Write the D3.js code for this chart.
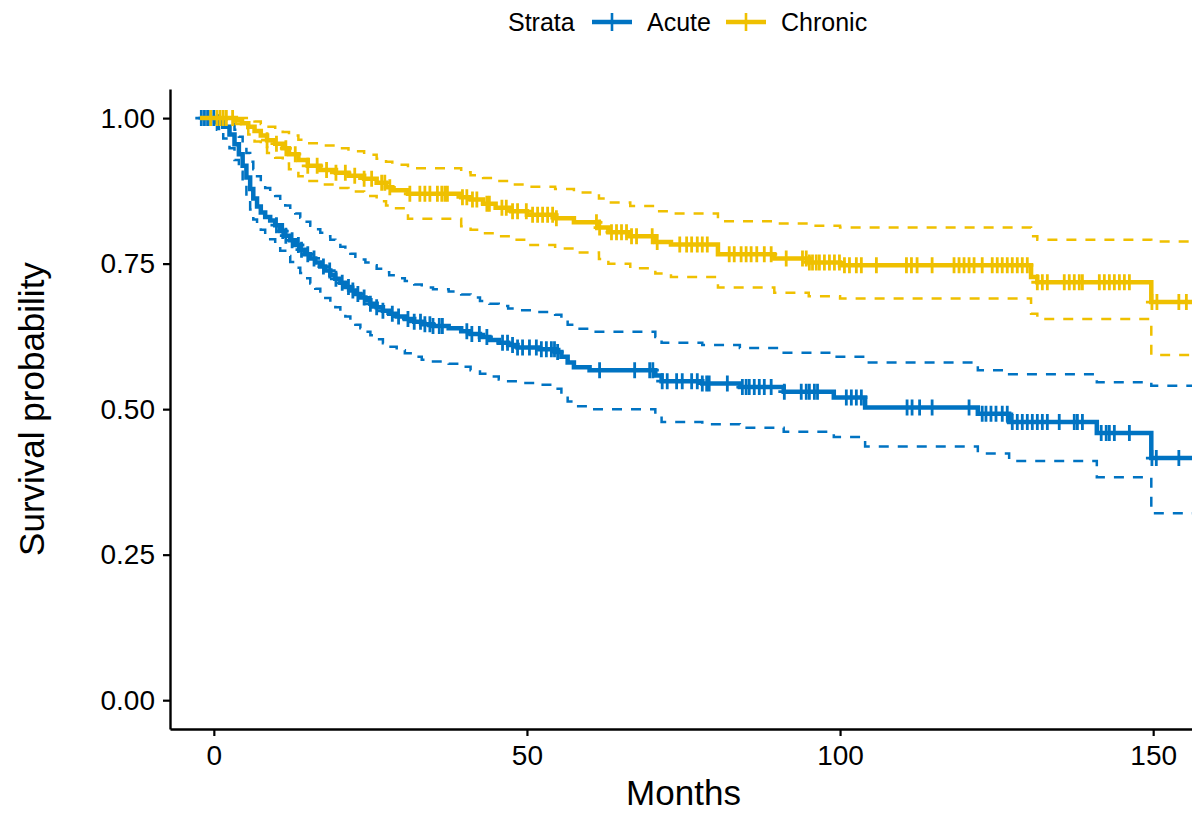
<!DOCTYPE html>
<html>
<head>
<meta charset="utf-8">
<script src="https://cdn.jsdelivr.net/npm/d3@7"></script>
<style>
  body { margin: 0; background: #fff; }
  text { font-family: "Liberation Sans", Arial, sans-serif; fill: #000; }
</style>
</head>
<body>
<svg width="1192" height="814" viewBox="0 0 1192 814"></svg>
<script>
// input data (months, survival probability)
const strata = ['Acute', 'Chronic'];
const colors = ['#0073C2', '#EFC000'];

// Acute: step times and estimate, with the 95% band
const acuteTime = [-2.2, 0.5, 1.5, 2.5, 3.3, 4.0, 4.6, 5.2, 5.8, 6.3, 6.9, 7.5, 8.2, 9.0, 9.8, 10.6, 11.4, 12.2, 13.0, 13.8, 14.6, 15.4, 16.2, 17.0, 17.8, 18.6, 19.4, 20.2, 21.0, 21.8, 22.6, 23.4, 24.2, 25.0, 26.0, 27.0, 28.0, 29.2, 30.5, 32.0, 33.2, 35.0, 37.5, 39.5, 41.0, 42.5, 44.0, 45.5, 47.0, 48.5, 52.0, 54.5, 55.5, 56.5, 57.5, 60.0, 70.5, 71.5, 78.0, 84.0, 91.0, 99.0, 104.0, 122.0, 127.0, 141.0, 149.7];
const acuteSurv = [1.0, 0.993, 0.985, 0.972, 0.955, 0.938, 0.918, 0.898, 0.878, 0.862, 0.848, 0.838, 0.830, 0.824, 0.816, 0.806, 0.798, 0.790, 0.782, 0.774, 0.766, 0.759, 0.752, 0.745, 0.738, 0.731, 0.724, 0.717, 0.710, 0.704, 0.698, 0.692, 0.687, 0.681, 0.675, 0.669, 0.664, 0.659, 0.655, 0.650, 0.646, 0.643, 0.639, 0.634, 0.629, 0.624, 0.619, 0.614, 0.610, 0.606, 0.603, 0.598, 0.590, 0.580, 0.572, 0.567, 0.558, 0.548, 0.544, 0.538, 0.530, 0.520, 0.503, 0.492, 0.478, 0.459, 0.416];
const acuteUpper = [1.0, 1.0, 0.998, 0.990, 0.980, 0.968, 0.955, 0.940, 0.925, 0.912, 0.900, 0.890, 0.880, 0.874, 0.866, 0.858, 0.850, 0.843, 0.836, 0.829, 0.822, 0.815, 0.809, 0.803, 0.797, 0.791, 0.785, 0.779, 0.773, 0.767, 0.762, 0.757, 0.752, 0.747, 0.741, 0.735, 0.730, 0.725, 0.720, 0.714, 0.709, 0.706, 0.702, 0.697, 0.692, 0.686, 0.681, 0.677, 0.673, 0.670, 0.667, 0.662, 0.654, 0.645, 0.638, 0.633, 0.624, 0.614, 0.610, 0.605, 0.597, 0.590, 0.580, 0.567, 0.560, 0.546, 0.540];
const acuteLower = [1.0, 0.980, 0.965, 0.948, 0.928, 0.908, 0.886, 0.865, 0.843, 0.826, 0.812, 0.808, 0.800, 0.792, 0.783, 0.772, 0.763, 0.753, 0.743, 0.734, 0.725, 0.716, 0.707, 0.699, 0.691, 0.683, 0.675, 0.667, 0.659, 0.652, 0.645, 0.639, 0.633, 0.627, 0.620, 0.613, 0.607, 0.601, 0.596, 0.590, 0.585, 0.582, 0.578, 0.573, 0.567, 0.561, 0.556, 0.551, 0.548, 0.545, 0.542, 0.535, 0.525, 0.513, 0.505, 0.500, 0.490, 0.478, 0.474, 0.468, 0.461, 0.452, 0.436, 0.424, 0.411, 0.383, 0.321];
const acuteCensor = [-2.0, -1.5, -1.0, -0.5, 0.0, 0.8, 10.0, 11.0, 11.5, 12.5, 13.5, 14.0, 15.0, 16.0, 17.5, 18.5, 19.5, 20.5, 21.5, 22.2, 23.0, 24.0, 25.0, 26.0, 27.0, 28.5, 29.5, 31.0, 32.0, 33.0, 33.7, 34.5, 35.0, 36.0, 36.5, 40.4, 41.2, 42.4, 43.6, 46.1, 46.9, 47.7, 48.5, 49.3, 50.4, 51.5, 52.3, 53.1, 53.9, 54.4, 54.9, 61.6, 67.2, 69.6, 70.1, 71.6, 72.4, 73.9, 74.8, 76.3, 77.2, 78.0, 78.7, 79.1, 82.0, 84.4, 85.0, 85.5, 86.3, 87.1, 87.9, 89.0, 91.1, 93.8, 94.6, 95.1, 95.9, 96.4, 101.0, 101.8, 102.6, 103.4, 110.7, 111.5, 112.7, 114.7, 120.6, 122.7, 123.3, 124.1, 124.9, 125.9, 126.7, 127.5, 128.3, 129.1, 129.9, 130.7, 131.5, 132.3, 133.1, 135.0, 137.4, 137.9, 138.7, 141.7, 142.5, 143.0, 143.8, 146.2, 149.8, 150.5, 154.1, 160.0];

// Chronic
const chronicTime = [-2.2, 3.5, 4.5, 5.5, 6.5, 7.5, 8.5, 9.8, 11.0, 12.0, 13.5, 15.0, 17.0, 19.5, 21.5, 24.0, 26.0, 27.5, 28.5, 31.0, 39.5, 41.0, 43.0, 45.0, 47.5, 50.0, 54.5, 57.5, 61.5, 63.0, 66.5, 70.5, 73.0, 80.5, 89.5, 95.0, 100.0, 130.5, 131.5, 149.7];
const chronicSurv = [1.0, 0.996, 0.991, 0.985, 0.978, 0.970, 0.962, 0.956, 0.948, 0.938, 0.928, 0.918, 0.911, 0.906, 0.901, 0.896, 0.889, 0.881, 0.876, 0.870, 0.864, 0.860, 0.853, 0.846, 0.840, 0.834, 0.828, 0.821, 0.812, 0.804, 0.797, 0.787, 0.783, 0.766, 0.759, 0.752, 0.747, 0.727, 0.718, 0.684];
const chronicUpper = [1.0, 1.0, 1.0, 0.998, 0.994, 0.990, 0.985, 0.981, 0.976, 0.970, 0.963, 0.957, 0.953, 0.948, 0.943, 0.937, 0.930, 0.925, 0.920, 0.914, 0.907, 0.902, 0.897, 0.892, 0.886, 0.882, 0.878, 0.872, 0.862, 0.855, 0.849, 0.840, 0.836, 0.823, 0.819, 0.815, 0.812, 0.797, 0.791, 0.788];
const chronicLower = [1.0, 0.990, 0.982, 0.972, 0.960, 0.950, 0.940, 0.932, 0.922, 0.912, 0.900, 0.892, 0.886, 0.880, 0.874, 0.866, 0.857, 0.850, 0.845, 0.827, 0.814, 0.808, 0.802, 0.797, 0.791, 0.782, 0.776, 0.769, 0.758, 0.750, 0.742, 0.733, 0.727, 0.709, 0.700, 0.694, 0.690, 0.664, 0.655, 0.593];
const chronicCensor = [-0.5, 0.5, 1.0, 1.5, 2.0, 3.0, 8.5, 10.0, 11.5, 13.0, 15.0, 16.5, 18.0, 19.5, 21.0, 22.5, 24.0, 25.2, 26.8, 27.3, 28.1, 31.3, 32.9, 33.7, 34.5, 35.7, 36.4, 36.9, 37.3, 39.7, 40.4, 41.3, 42.0, 43.6, 44.0, 46.0, 46.7, 47.7, 48.5, 49.9, 50.9, 51.7, 52.5, 53.3, 54.1, 54.7, 61.1, 61.6, 63.5, 64.3, 65.1, 65.9, 66.7, 67.5, 70.0, 70.8, 74.4, 75.5, 76.3, 77.2, 78.0, 78.8, 82.3, 83.1, 84.2, 85.0, 85.8, 86.7, 87.9, 89.0, 91.4, 94.0, 94.6, 95.1, 95.6, 96.2, 96.7, 97.5, 98.3, 99.1, 99.9, 100.7, 101.5, 102.6, 103.4, 105.8, 110.6, 111.4, 112.3, 114.7, 118.2, 119.0, 119.8, 120.6, 121.4, 122.7, 124.3, 125.1, 125.9, 126.7, 127.5, 128.3, 129.1, 129.9, 131.5, 132.3, 133.1, 135.8, 136.6, 137.4, 138.2, 138.7, 141.4, 142.2, 143.0, 143.8, 144.6, 145.4, 146.2, 149.8, 150.6, 154.1, 155.3, 160.0];

const xTicks = [0, 50, 100, 150];
const yTicks = [0, 0.25, 0.5, 0.75, 1];
const xTitle = 'Months';
const yTitle = 'Survival probability';
const legendTitle = 'Strata';

const series = [
  { name: strata[0], color: colors[0], time: acuteTime, surv: acuteSurv, upper: acuteUpper, lower: acuteLower, censor: acuteCensor },
  { name: strata[1], color: colors[1], time: chronicTime, surv: chronicSurv, upper: chronicUpper, lower: chronicLower, censor: chronicCensor },
];

const svg = d3.select('svg');

// plot panel, in pixels
const panel = { left: 170, right: 1192, top: 89, bottom: 729 };

const x = d3.scaleLinear().domain([-7, 156.2]).range([panel.left, panel.right]);
const y = d3.scaleLinear().domain([-0.0495, 1.05]).range([panel.bottom, panel.top]);

svg.append('defs')
  .append('clipPath')
  .attr('id', 'clip')
  .append('rect')
  .attr('x', panel.left)
  .attr('y', panel.top - 20)
  .attr('width', panel.right - panel.left)
  .attr('height', panel.bottom - panel.top + 20);

const plot = svg.append('g').attr('clip-path', 'url(#clip)');

// step value at time t
const valueAt = (s, key, t) => s[key][Math.max(0, d3.bisectRight(s.time, t) - 1)];

const stepLine = d3.line()
  .x(d => x(d[0]))
  .y(d => y(d[1]))
  .curve(d3.curveStepAfter);

// points of a step curve, run out to the last follow-up time
const stepPoints = (s, key) => {
  const pts = s.time.map((t, i) => [t, s[key][i]]);
  pts.push([d3.max(s.censor), s[key][s[key].length - 1]]);
  return pts;
};

series.forEach(s => {
  const g = plot.append('g');
  // confidence band as dashed steps
  ['upper', 'lower'].forEach(key => {
    g.append('path')
      .attr('d', stepLine(stepPoints(s, key)))
      .attr('fill', 'none')
      .attr('stroke', s.color)
      .attr('stroke-width', 2.5)
      .attr('stroke-dasharray', '10,9');
  });
  // survival estimate
  g.append('path')
    .attr('d', stepLine(stepPoints(s, 'surv')))
    .attr('fill', 'none')
    .attr('stroke', s.color)
    .attr('stroke-width', 4.5);
  // censor marks
  g.selectAll('path.censor')
    .data(s.censor)
    .join('path')
    .attr('class', 'censor')
    .attr('d', t => {
      const cx = x(t);
      const cy = y(valueAt(s, 'surv', t));
      return `M${cx - 6},${cy}H${cx + 6}M${cx},${cy - 8}V${cy + 8}`;
    })
    .attr('stroke', s.color)
    .attr('stroke-width', 2.8)
    .attr('fill', 'none');
});

// axes
const xAxis = svg.append('g')
  .attr('transform', `translate(0,${panel.bottom})`)
  .call(d3.axisBottom(x).tickValues(xTicks).tickSize(7).tickSizeOuter(0).tickPadding(9).tickFormat(d3.format('d')));
const yAxis = svg.append('g')
  .attr('transform', `translate(${panel.left},0)`)
  .call(d3.axisLeft(y).tickValues(yTicks).tickSize(7).tickSizeOuter(0).tickPadding(8).tickFormat(d3.format('.2f')));

[xAxis, yAxis].forEach(a => {
  a.select('.domain').attr('stroke', '#000').attr('stroke-width', 2.4);
  a.selectAll('.tick line').attr('stroke', '#000').attr('stroke-width', 2.2);
  a.selectAll('.tick text')
    .attr('font-family', '"Liberation Sans", Arial, sans-serif')
    .attr('font-size', 28)
    .attr('fill', '#1a1a1a');
});

svg.append('text')
  .attr('x', (x(xTicks[0]) + x(xTicks[3])) / 2)
  .attr('y', 805)
  .attr('text-anchor', 'middle')
  .attr('font-size', 35)
  .text(xTitle);

svg.append('text')
  .attr('transform', `translate(44,${(panel.top + panel.bottom) / 2}) rotate(-90)`)
  .attr('text-anchor', 'middle')
  .attr('font-size', 35)
  .text(yTitle);

// legend on top
const legend = svg.append('g').attr('transform', 'translate(0,22)');
legend.append('text')
  .attr('x', 508)
  .attr('y', 9)
  .attr('font-size', 25)
  .text(legendTitle);

const keyX = [592, 726];
series.forEach((s, i) => {
  const k = legend.append('g').attr('transform', `translate(${keyX[i]},0)`);
  k.append('line')
    .attr('x1', 0).attr('x2', 40)
    .attr('stroke', s.color)
    .attr('stroke-width', 4.5);
  k.append('line')
    .attr('x1', 20).attr('x2', 20)
    .attr('y1', -9).attr('y2', 9)
    .attr('stroke', s.color)
    .attr('stroke-width', 2.6);
  k.append('text')
    .attr('x', 55)
    .attr('y', 9)
    .attr('font-size', 25)
    .text(s.name);
});
</script>
</body>
</html>
